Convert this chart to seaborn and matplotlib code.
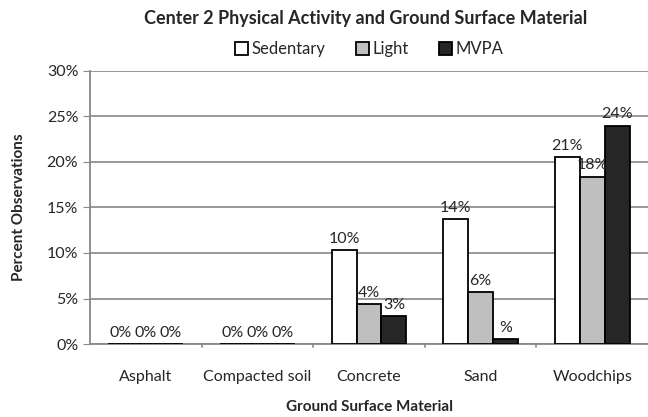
import pandas as pd
import matplotlib.pyplot as plt
import seaborn as sns

materials = ["Asphalt", "Compacted soil", "Concrete", "Sand", "Woodchips"]
sedentary = [0.0, 0.0, 10.3, 13.7, 20.5]
light = [0.0, 0.0, 4.4, 5.7, 18.4]
mvpa = [0.0, 0.0, 3.1, 0.5, 24.0]
sedentary_labels = ["0%", "0%", "10%", "14%", "21%"]
light_labels = ["0%", "0%", "4%", "6%", "18%"]
mvpa_labels = ["0%", "0%", "3%", "%", "24%"]

df = pd.DataFrame({
    "Material": materials * 3,
    "Level": ["Sedentary"] * 5 + ["Light"] * 5 + ["MVPA"] * 5,
    "Percent": sedentary + light + mvpa,
})

sns.set_style("white")
plt.rcParams["font.family"] = ["Lato", "DejaVu Sans"]

fig = plt.figure(figsize=(6.48, 4.17), dpi=100)
ax = fig.add_axes([0.139, 0.175, 0.861, 0.655])

palette = {"Sedentary": "#ffffff", "Light": "#bfbfbf", "MVPA": "#262626"}
sns.barplot(data=df, x="Material", y="Percent", hue="Level", palette=palette,
            edgecolor="black", linewidth=1.3, width=0.67, saturation=1,
            ax=ax, zorder=3)

for cont, labs in zip(ax.containers, [sedentary_labels, light_labels, mvpa_labels]):
    ax.bar_label(cont, labels=labs, padding=3, fontsize=11.5)

ax.set_ylim(0, 30)
ax.set_yticks(range(0, 31, 5))
ax.set_yticklabels([f"{v}%" for v in range(0, 31, 5)], fontsize=11.5)
ax.tick_params(axis="x", labelsize=11.5, pad=19, length=0)
ax.tick_params(axis="y", length=5, color="#888888", direction="out", left=True)
ax.set_xlim(-0.5, 4.5)
for x in [0.5, 1.5, 2.5, 3.5]:
    ax.plot([x, x], [0, -0.35], color="#888888", lw=1.2, clip_on=False)
ax.grid(axis="y", color="#888888", lw=1.2, zorder=0)
for s in ["top", "right"]:
    ax.spines[s].set_visible(False)
for s in ["left", "bottom"]:
    ax.spines[s].set_color("#888888")
    ax.spines[s].set_linewidth(1.3)

ax.set_xlabel("Ground Surface Material", fontsize=11, fontweight="bold", labelpad=11)
ax.set_ylabel("Percent Observations", fontsize=11, fontweight="bold", labelpad=15)
fig.suptitle("Center 2 Physical Activity and Ground Surface Material",
             fontsize=13, fontweight="bold", x=0.565, y=0.975)

handles, labels = ax.get_legend_handles_labels()
ax.legend(handles, labels, loc="upper center", bbox_to_anchor=(0.5, 1.14),
          ncol=3, frameon=False, fontsize=12, handlelength=0.8, handleheight=0.8,
          handletextpad=0.2, columnspacing=1.8, borderpad=0)

fig.savefig("out.png", dpi=100)
